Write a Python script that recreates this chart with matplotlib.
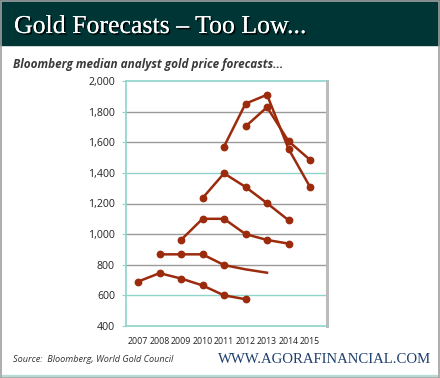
"""
Gold forecasts - too low: Bloomberg median analyst gold price forecasts.
"""
import matplotlib.pyplot as plt
import matplotlib.patheffects as pe
from matplotlib.patches import Rectangle

# forecast series (year the forecast is for, median price in USD/oz)
years_a = [2007, 2008, 2009, 2010, 2011, 2012]
price_a = [690, 745, 710, 665, 600, 575]

years_b = [2008, 2009, 2010, 2011, 2012, 2013]
price_b = [868, 868, 868, 798, 770, 748]
marked_b = [0, 1, 2, 3]

years_c = [2009, 2010, 2011, 2012, 2013, 2014]
price_c = [962, 1100, 1100, 1000, 962, 938]

years_d = [2010, 2011, 2012, 2013, 2014]
price_d = [1235, 1397, 1308, 1202, 1091]

years_e = [2011, 2012, 2013, 2014, 2015]
price_e = [1572, 1852, 1910, 1557, 1308]

years_f = [2012, 2013, 2014, 2015]
price_f = [1703, 1829, 1607, 1485]

year_ticks = list(range(2007, 2016))
price_ticks = list(range(400, 2001, 200))

RED = '#9b2b0c'
TEAL = '#8fd3cb'
GRID = '#9a9a9a'


def make_chart():
    fig = plt.figure(figsize=(4.4, 3.78), dpi=100)

    # header banner and frame
    fig.patches.append(Rectangle((0, 1 - 45 / 378), 1, 45 / 378,
                                 transform=fig.transFigure,
                                 color='#003535', zorder=0))
    fig.patches.append(Rectangle((0.5 / 440, 0.5 / 378), 438 / 440, 376.5 / 378,
                                 transform=fig.transFigure, fill=False,
                                 edgecolor='#a0a0a0', lw=1.2, zorder=5))
    fig.patches.append(Rectangle((2 / 440, 2 / 378), 435 / 440, 0.8 / 378,
                                 transform=fig.transFigure,
                                 color='#b5dcd6', zorder=4))

    fig.text(14 / 440, 1 - 33 / 378, 'Gold Forecasts \u2013 Too Low...',
             family='Liberation Serif', fontsize=18.6, color='white',
             path_effects=[pe.withSimplePatchShadow(offset=(1.2, -1.2),
                                                    shadow_rgbFace='black',
                                                    alpha=0.9),
                           pe.Normal()])
    fig.text(13 / 440, 1 - 68 / 378,
             'Bloomberg median analyst gold price forecasts...',
             family='Open Sans', fontsize=8.5, fontweight='bold',
             fontstyle='italic', color='#3a3a3a')

    ax = fig.add_axes([126 / 440, 52 / 378, 201 / 440, 245 / 378])
    ax.set_xlim(2006.44, 2015.79)
    ax.set_ylim(400, 2000)

    for p in price_ticks[1:-1]:
        ax.axhline(p, color=TEAL if p in (600, 1400) else GRID,
                   lw=1.0, zorder=1)

    style = dict(color=RED, lw=1.8, marker='o', markersize=4.6, zorder=3)
    ax.plot(years_a, price_a, **style)
    ax.plot(years_b, price_b, markevery=marked_b, **style)
    ax.plot(years_c, price_c, **style)
    ax.plot(years_d, price_d, **style)
    ax.plot(years_e, price_e, **style)
    ax.plot(years_f, price_f, **style)

    for side in ('left', 'top', 'bottom'):
        ax.spines[side].set_color(TEAL)
        ax.spines[side].set_linewidth(1.2)
    ax.spines['right'].set_color('#bcbcbc')
    ax.spines['right'].set_linewidth(2.2)

    ax.set_yticks(price_ticks)
    ax.set_yticklabels(['{:,}'.format(p) for p in price_ticks])
    ax.set_xticks(year_ticks)
    ax.set_xticklabels([str(y) for y in year_ticks])
    ax.tick_params(axis='y', length=3, color=TEAL, pad=5,
                   labelsize=7.6, labelcolor='#222222')
    ax.tick_params(axis='x', length=0, pad=8,
                   labelsize=6.3, labelcolor='#222222')
    for lab in ax.get_xticklabels() + ax.get_yticklabels():
        lab.set_family('Open Sans')

    fig.text(13 / 440, 1 - 362 / 378, 'Source:  Bloomberg, World Gold Council',
             family='Open Sans', fontsize=6.6, fontstyle='italic',
             color='#333333')
    fig.text(431 / 440, 1 - 363 / 378, 'WWW.AGORAFINANCIAL.COM',
             family='Liberation Serif', fontsize=10.6, color='#1f3f6e',
             ha='right')

    fig.savefig('out.png', dpi=100)


if __name__ == '__main__':
    make_chart()
